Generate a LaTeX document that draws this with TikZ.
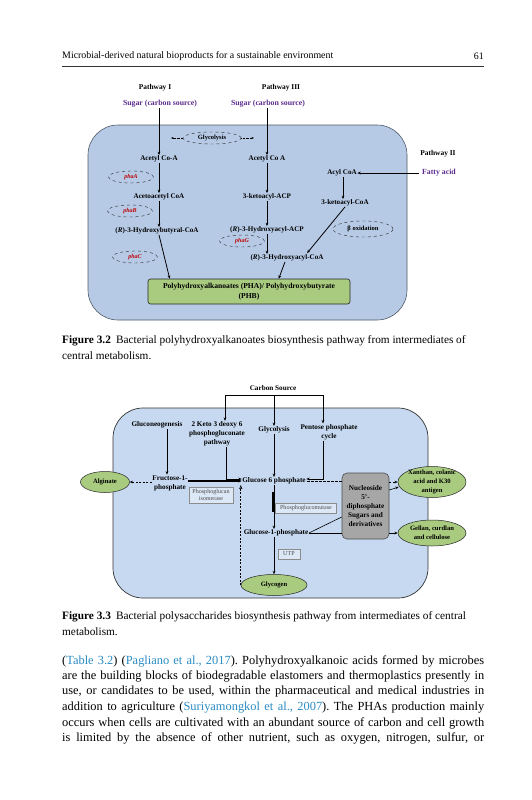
\documentclass[tikz,border=0pt]{standalone}
\usepackage{fontspec}
\setmainfont{Liberation Serif}
\usetikzlibrary{arrows.meta,shapes.geometric,calc}
\definecolor{bgA}{HTML}{B6CAE5}
\definecolor{bgB}{HTML}{C6D9F0}
\definecolor{grn}{HTML}{A9CB80}
\definecolor{purp}{HTML}{5B2C8E}
\definecolor{redg}{HTML}{C00000}
\definecolor{cite}{HTML}{2A8CC4}
\definecolor{gbox}{HTML}{A6A6A6}
\definecolor{framec}{HTML}{505A68}
\frenchspacing
\begin{document}
\begin{tikzpicture}[x=1pt,y=-1pt,
 lbl/.style={font=\fontsize{7.1}{8}\selectfont\bfseries, inner sep=0.5pt, align=center},
 lblB/.style={font=\fontsize{7.2}{9.2}\selectfont\bfseries, inner sep=0.5pt, align=center},
 lblE/.style={font=\fontsize{6.6}{9}\selectfont\bfseries, inner sep=0pt, align=center},
 hd/.style={font=\fontsize{7.4}{8.5}\selectfont\bfseries, inner sep=0.5pt},
 sug/.style={font=\fontsize{7.8}{9}\selectfont\bfseries, text=purp, inner sep=0.5pt},
 enz/.style={ellipse, draw=black!80, dashed, line width=0.45pt, minimum width=45pt, minimum height=12pt, inner sep=0pt, font=\fontsize{6}{7}\selectfont\bfseries\itshape, text=redg},
 ell/.style={ellipse, draw=black!80, dashed, line width=0.45pt, inner sep=0pt, font=\fontsize{6.5}{7}\selectfont\bfseries},
 arr/.style={-{Stealth[length=3.4pt,width=2.8pt]}, line width=0.8pt},
 darr/.style={-{Stealth[length=3.2pt,width=2.6pt]}, line width=0.8pt, dashed, dash pattern=on 2pt off 1.5pt},
 dotarr/.style={-{Stealth[length=2.5pt,width=2pt]}, line width=0.45pt, densely dotted},
 gell/.style={ellipse, fill=grn, draw=black!85, line width=0.5pt, inner sep=0pt},
 sbox/.style={draw=black!45, fill=white!40!bgB, line width=0.5pt, inner sep=0.5pt, align=center, font=\fontsize{6.1}{6.8}\selectfont, text=black!70},
 capt/.style={anchor=west, inner sep=0pt, font=\fontsize{11.3}{13}\selectfont},
 bodyt/.style={anchor=west, inner sep=0pt, font=\fontsize{12.4}{15}\selectfont}
]
\useasboundingbox[fill=white] (0,0) rectangle (531,800);

% header
\node[anchor=west, inner sep=0pt, font=\fontsize{9.9}{11}\selectfont] (hdr) at (62,56) {Microbial-derived natural bioproducts for a sustainable environment};
\node[anchor=east, inner sep=0pt, font=\fontsize{9.9}{11}\selectfont] (pg) at (484,56) {61};
\draw[line width=0.6pt, black!80] (62,66) -- (484,66);

% ---------- Figure 3.2 ----------
\draw[fill=bgA, draw=framec, line width=0.6pt, rounded corners=30pt] (88,125) rectangle (407,320);
\node[hd] (pI) at (155,88) {Pathway I};
\node[hd] (pIII) at (281,88) {Pathway III};
\node[sug] (s1) at (160,104) {Sugar (carbon source)};
\node[sug] (s3) at (268,104) {Sugar (carbon source)};
\node[ell, minimum width=58pt, minimum height=12pt] (gly) at (212,138) {Glycolysis};
\coordinate (glL) at (171,138);
\coordinate (glR) at (254,138);
\draw[dotarr] (gly.west) -- (glL);
\draw[dotarr] (gly.east) -- (glR);
\node[lbl] (ac1) at (159,159) {Acetyl Co-A};
\node[lbl] (ac3) at (267,159) {Acetyl Co A};
\node[lbl] (aa) at (159,197) {Acetoacetyl CoA};
\node[lbl] (ka) at (267,197) {3-ketoacyl-ACP};
\node[lbl] (hb) at (157,231) {(\textit{R})-3-Hydroxybutyral-CoA};
\node[lbl] (hacp) at (267,230) {(\textit{R})-3-Hydroxyacyl-ACP};
\node[lbl] (hcoa) at (287,258) {(\textit{R})-3-Hydroxyacyl-CoA};
\node[enz] (phaA) at (131,177) {phaA};
\node[enz] (phaB) at (130,211) {phaB};
\node[enz] (phaG) at (242,241) {phaG};
\node[enz] (phaC) at (135,257) {phaC};
\node[ell, minimum width=60pt, minimum height=16pt] (box) at (363,229) {β oxidation};
\node[hd] (p2) at (438,154) {Pathway II};
\node[sug] (fa) at (439,173) {Fatty acid};
\node[lbl] (acyl) at (342,173) {Acyl CoA};
\node[lbl] (kcoa) at (345,203) {3-ketoacyl-CoA};
\node[draw=black!85, fill=grn, line width=0.6pt, rounded corners=2.5pt, minimum width=202pt, minimum height=25pt, align=center, inner sep=1pt, font=\fontsize{7.6}{9.5}\selectfont\bfseries] (pha) at (249,291.5) {Polyhydroxyalkanoates (PHA)/ Polyhydroxybutyrate\\(PHB)};
\draw[arr] (s1.south -| ac1) -- (ac1);
\draw[arr] (s3.south -| ac3) -- (ac3);
\draw[arr] (ac1) -- (aa);
\draw[arr] (ac3) -- (ka);
\draw[arr] (aa.south -| ac1) -- (hb.north -| ac1);
\draw[arr] (ka) -- (hacp);
\draw[arr] (hacp.south) -- (hacp.south |- hcoa.north);
\draw[arr] ($(fa.west)+(-3,0)$) -- (acyl);
\draw[arr] (acyl.south -| 343,0) -- (kcoa.north -| 343,0);
\draw[arr] (kcoa.south) -- ($(hcoa.north east)+(-17,-1)$);
\draw[arr] (hb.south -| ac1) -- ($(pha.north west)+(22,0)$);
\draw[arr] ($(hcoa.south)+(-2,0)$) -- ($(pha.north west)+(131,0)$);

\node[capt] (c32a) at (62,341) {\textbf{Figure 3.2}\hspace{0.45em}Bacterial polyhydroxyalkanoates biosynthesis pathway from intermediates of};
\node[capt] (c32b) at (62,355.5) {central metabolism.};

% ---------- Figure 3.3 ----------
\draw[fill=bgB, draw=black!80, line width=0.7pt, rounded corners=30pt] (113,408) rectangle (428,598);
\node[lblB] (cs) at (273,388) {Carbon Source};
\coordinate (cb) at (274,395);
\coordinate (cbl) at (225,395);
\coordinate (cbr) at (323,395);
\node[lblB] (gluco) at (157,425) {Gluconeogenesis};
\node[lblB] (k2) at (217,434) {2 Keto 3 deoxy 6\\phosphogluconate\\pathway};
\node[lblB] (glyB) at (274,430) {Glycolysis};
\node[lblB] (ppc) at (329,432) {Pentose phosphate\\cycle};
\node[lblB] (fru) at (170,483) {Fructose-1-\\phosphate};
\node[lblB] (g6p) at (274,481) {Glucose 6 phosphate};
\node[lblB] (g1p) at (276,533) {Glucose-1-phosphate};
\node[gell, minimum width=49pt, minimum height=21pt] (alg) at (105,482) {};
\node[lblE] (algt) at (alg) {Alginate};
\node[gell, minimum width=66pt, minimum height=21pt] (glyc) at (274,585) {};
\node[lblE] (glyct) at (glyc) {Glycogen};
\node[draw=black!70, fill=gbox, rounded corners=5pt, line width=0.6pt, minimum width=47pt, minimum height=66pt, align=center, inner sep=0pt, font=\fontsize{7.2}{9}\selectfont\bfseries] (nuc) at (365.5,506) {Nucleoside\\5'-\\diphosphate\\Sugars and\\derivatives};
\node[gell, minimum width=68pt, minimum height=31pt] (xan) at (432,482) {};
\node[lblE] (xant) at (xan) {Xanthan, colanic\\acid and K30\\antigen};
\node[gell, minimum width=68pt, minimum height=26pt] (gel) at (432,533) {};
\node[lblE] (gelt) at (gel) {Gellan, curdlan\\and cellulose};
\node[sbox, minimum width=44pt, minimum height=16pt] (pgi) at (211,495) {Phosphoglucan\\isomerase};
\node[sbox, minimum width=61pt, minimum height=10pt] (pgm) at (306,508) {Phosphoglucomutase};
\node[sbox, minimum width=22pt, minimum height=10pt] (utp) at (289,554) {UTP};

\draw[line width=0.8pt] (cbl) -- (cbr);
\draw[arr] (cbl) -- (cbl |- k2.north);
\draw[arr] (cb) -- (glyB.north);
\draw[arr] (cbr) -- (cbr |- ppc.north);
\draw[arr, line width=0.6pt] (gluco.south -| 167,0) -- (fru.north -| 167,0);
\draw[arr] ($(k2.south)+(9,0)$) |- ($(g6p.west)+(0,-2)$);
\draw[arr, line width=1.3pt] (fru.east |- g6p.west) -- (g6p.west);
\draw[arr] (glyB) -- (g6p);
\draw[arr] (cbr |- ppc.south) |- ($(g6p.east)+(0,-2)$);
\draw[line width=0.8pt, dashed, dash pattern=on 2.5pt off 1.5pt] (nuc.west |- g6p.east) -- (g6p.east);
\draw[darr] (fru.west |- alg.east) -- (alg.east);
\draw[dashed, line width=0.6pt, dash pattern=on 2pt off 1.5pt, -{Triangle[open, length=4pt, width=3pt]}] (glyc.west) -- (glyc.west |- g6p.south);
\draw[line width=2pt] ($(g6p.south)+(-1,7)$) -- ($(g6p.south)+(-1,27)$);
\draw[arr, line width=0.6pt] (g6p.south) -- (g1p.north -| g6p.south);
\draw[arr, line width=0.6pt] (g1p.south -| glyc.north) -- (glyc.north);
\draw[line width=0.6pt] (g1p.east) -- (nuc.west |- g1p.east);
\draw[line width=0.6pt] (g1p.east) -- ($(nuc.west)+(0,11)$);
\draw[arr, line width=0.6pt] (nuc.east |- gel.west) -- (gel.west);
\draw[darr, line width=0.6pt] (nuc.east |- xan.west) -- (xan.west);
\draw[arr, line width=0.6pt] ($(nuc.east)+(0,-16)$) -- ($(xan.west)+(1,5)$);

\node[capt] (c33a) at (62,617) {\textbf{Figure 3.3}\hspace{0.45em}Bacterial polysaccharides biosynthesis pathway from intermediates of central};
\node[capt] (c33b) at (62,631.5) {metabolism.};

% ---------- body text ----------
\node[bodyt] (l1) at (62,661) {\makebox[422pt][s]{(\textcolor{cite}{Table 3.2}) (\textcolor{cite}{Pagliano et al., 2017}). Polyhydroxyalkanoic acids formed by microbes}};
\node[bodyt] (l2) at (62,676.5) {\makebox[422pt][s]{are the building blocks of biodegradable elastomers and thermoplastics presently in}};
\node[bodyt] (l3) at (62,692) {\makebox[422pt][s]{use, or candidates to be used, within the pharmaceutical and medical industries in}};
\node[bodyt] (l4) at (62,707.5) {\makebox[422pt][s]{addition to agriculture (\textcolor{cite}{Suriyamongkol et al., 2007}). The PHAs production mainly}};
\node[bodyt] (l5) at (62,723) {\makebox[422pt][s]{occurs when cells are cultivated with an abundant source of carbon and cell growth}};
\node[bodyt] (l6) at (62,738.5) {\makebox[422pt][s]{is limited by the absence of other nutrient, such as oxygen, nitrogen, sulfur, or}};
\end{tikzpicture}
\end{document}
